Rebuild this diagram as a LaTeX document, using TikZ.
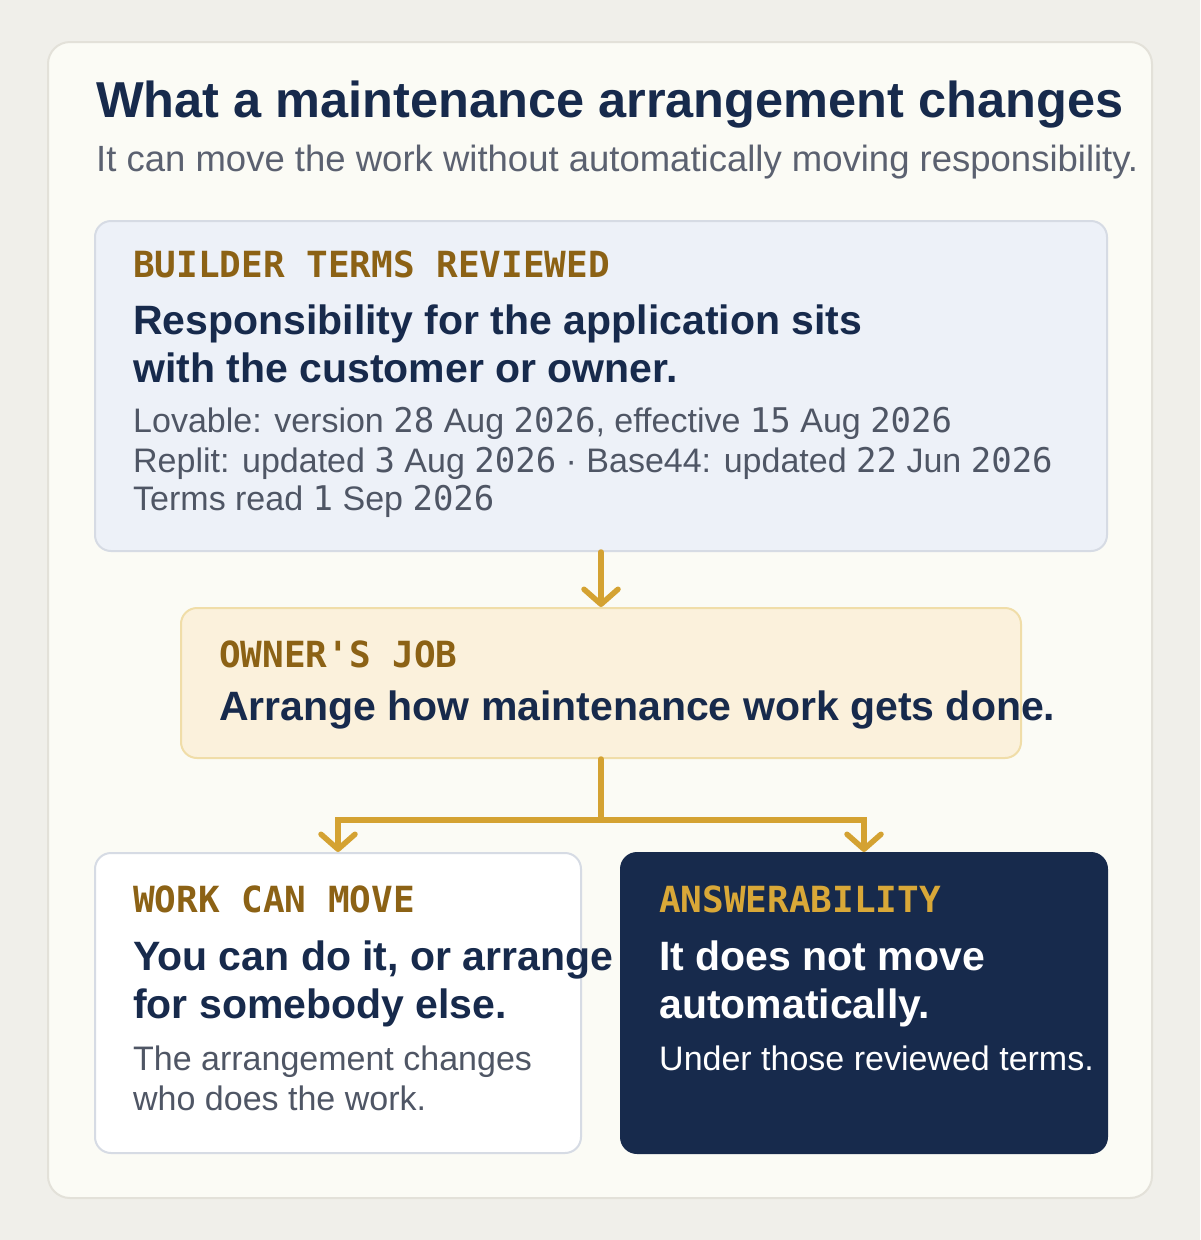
\documentclass[tikz,border=0pt]{standalone}
\usepackage{fontspec}
\setmainfont{Liberation Sans}
\newfontfamily\monofont{DejaVu Sans Mono}
\usetikzlibrary{arrows.meta}

\definecolor{pagebg}{HTML}{F0EFEA}
\definecolor{cardbg}{HTML}{FBFBF5}
\definecolor{cardline}{HTML}{E3E1D9}
\definecolor{termsbg}{HTML}{EDF1F8}
\definecolor{termsline}{HTML}{D6DBE4}
\definecolor{jobbg}{HTML}{FBF1DC}
\definecolor{jobline}{HTML}{F0DDA8}
\definecolor{navy}{HTML}{172A4C}
\definecolor{gold}{HTML}{D4A232}
\definecolor{tagbrown}{HTML}{8C6215}
\definecolor{taggold}{HTML}{D9A838}
\definecolor{graytext}{HTML}{4F5665}
\definecolor{subgray}{HTML}{5B6170}

\newcommand\dg[1]{{\monofont #1}}

\begin{document}
\begin{tikzpicture}[x=1pt,y=-1pt,
        flow/.style={draw=gold,line width=5.5pt,line cap=round,line join=miter,
            -{Straight Barb[length=15pt,width=34pt,line cap=round,line join=round]}},
        panel/.style={draw,line width=2pt,rounded corners=16pt,anchor=north west,inner sep=0pt},
        tag text/.style={anchor=base west,inner sep=0pt,font=\monofont\bfseries\fontsize{36}{40}\selectfont},
        head text/.style={anchor=base west,inner sep=0pt,text=navy,font=\bfseries\fontsize{41}{48}\selectfont},
        note text/.style={anchor=base west,inner sep=0pt,text=graytext,font=\fontsize{34}{39}\selectfont}]
        \useasboundingbox (0,0) rectangle (1200,1240);
        \fill[pagebg] (0,0) rectangle (1200,1240);
        \draw[cardline,fill=cardbg,line width=2pt,rounded corners=22pt] (48,42) rectangle (1152,1198);

        \node[anchor=base west,inner sep=0pt,text=navy,font=\bfseries\fontsize{50.5}{60}\selectfont] (title) at (96,117)
            {What a maintenance arrangement changes};
        \node[anchor=base west,inner sep=0pt,text=subgray,font=\fontsize{36.5}{40}\selectfont] (subtitle) at (96,171)
            {It can move the work without automatically moving responsibility.};

        % boxes
        \node[panel,draw=termsline,fill=termsbg,minimum width=1012pt,minimum height=330pt] (terms) at (94,220) {};
        \node[panel,draw=jobline,fill=jobbg,minimum width=840pt,minimum height=150pt] (job) at (180,607) {};
        \node[panel,draw=termsline,fill=white,minimum width=486pt,minimum height=300pt] (work) at (94,852) {};
        \node[panel,draw=navy,fill=navy,minimum width=486pt,minimum height=300pt] (answer) at (620,852) {};

        % builder terms
        \node[tag text,text=tagbrown] (termstag) at (133,277) {BUILDER TERMS REVIEWED};
        \node[head text] (termshead1) at (133,334) {Responsibility for the application sits};
        \node[head text] (termshead2) at (133,382) {with the customer or owner.};
        \node[note text] (termsnote1) at (133,432) {Lovable: version \dg{28} Aug \dg{2026}, effective \dg{15} Aug \dg{2026}};
        \node[note text] (termsnote2) at (133,472) {Replit: updated \dg{3} Aug \dg{2026} · Base44: updated \dg{22} Jun \dg{2026}};
        \node[note text] (termsnote3) at (133,510) {Terms read \dg{1} Sep \dg{2026}};

        % owner's job
        \node[tag text,text=tagbrown] (jobtag) at (219,667) {OWNER'S JOB};
        \node[head text] (jobhead) at (219,720) {Arrange how maintenance work gets done.};

        % work can move
        \node[tag text,text=tagbrown] (worktag) at (133,912) {WORK CAN MOVE};
        \node[head text] (workhead1) at (133,970) {You can do it, or arrange};
        \node[head text] (workhead2) at (133,1018) {for somebody else.};
        \node[note text] (worknote1) at (133,1070) {The arrangement changes};
        \node[note text] (worknote2) at (133,1110) {who does the work.};

        % answerability
        \node[tag text,text=taggold] (answertag) at (659,912) {ANSWERABILITY};
        \node[head text,text=white] (answerhead1) at (659,970) {It does not move};
        \node[head text,text=white] (answerhead2) at (659,1018) {automatically.};
        \node[note text,text=white] (answernote) at (659,1070) {Under those reviewed terms.};

        % connectors
        \path (job.south) ++(0,61) coordinate (fork);
        \draw[flow] (terms.south) -- (job.north);
        \draw[flow] (job.south) -- (fork) -| (work.north);
        \draw[flow] (fork) -| (answer.north);
\end{tikzpicture}
\end{document}
